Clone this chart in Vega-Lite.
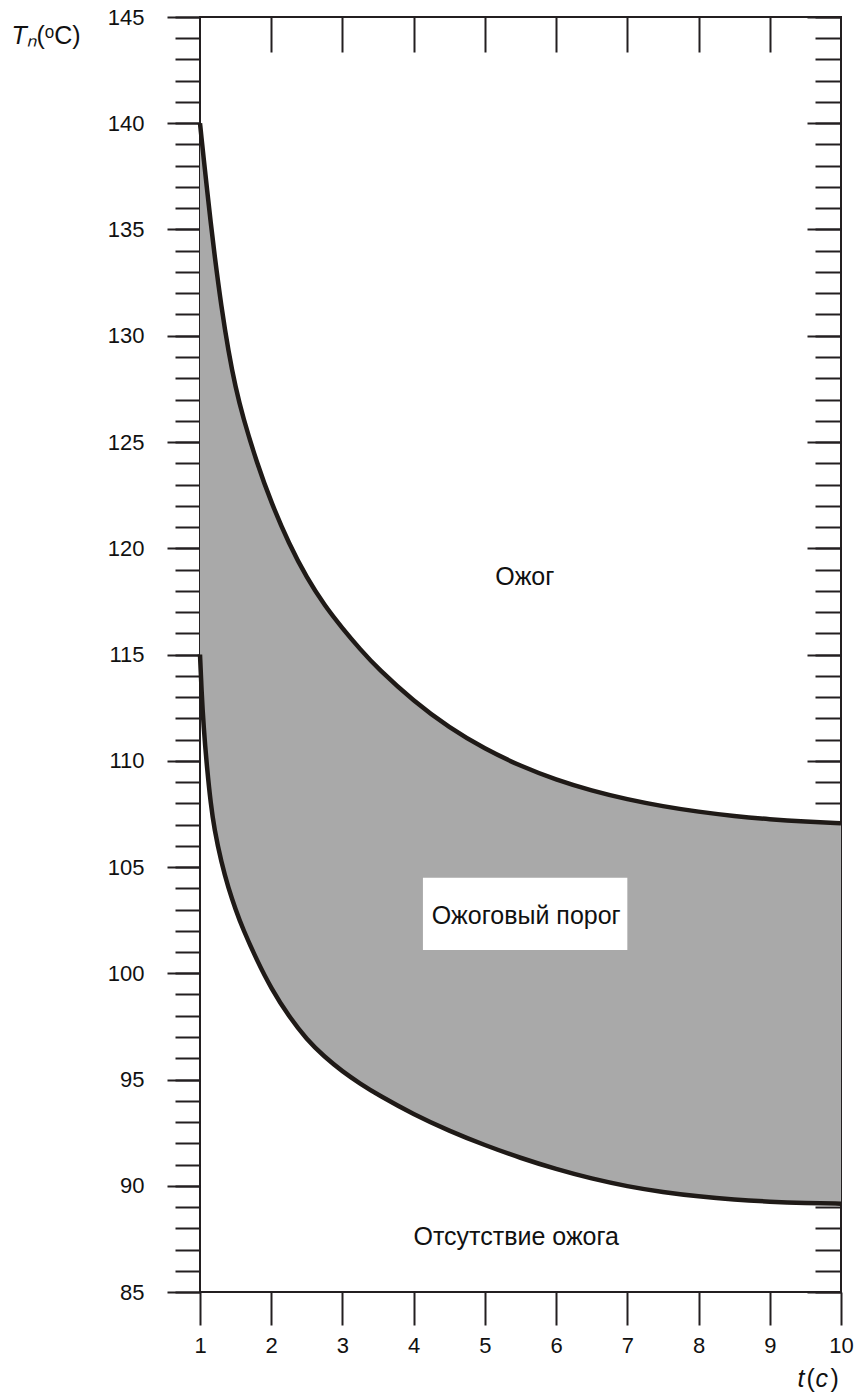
{
  "$schema": "https://vega.github.io/schema/vega-lite/v6.json",
  "width": 641,
  "height": 1275,
  "autosize": {"type": "none"},
  "padding": {"left": 200, "top": 17, "right": 16, "bottom": 102},
  "background": "white",
  "datasets": {
    "curves": [
      {"t": 1.0, "upper": 140.0, "lower": 115.0},
      {"t": 1.02, "upper": 139.35, "lower": 113.4},
      {"t": 1.05, "upper": 138.4, "lower": 111.6},
      {"t": 1.1, "upper": 136.85, "lower": 109.6},
      {"t": 1.15, "upper": 135.35, "lower": 108.0},
      {"t": 1.2, "upper": 133.9, "lower": 106.8},
      {"t": 1.3, "upper": 131.35, "lower": 105.2},
      {"t": 1.4, "upper": 129.25, "lower": 104.0},
      {"t": 1.5, "upper": 127.55, "lower": 103.0},
      {"t": 1.6, "upper": 126.2, "lower": 102.1},
      {"t": 1.8, "upper": 124.0, "lower": 100.6},
      {"t": 2.0, "upper": 122.15, "lower": 99.28},
      {"t": 2.25, "upper": 120.2, "lower": 97.955},
      {"t": 2.5, "upper": 118.6, "lower": 96.88},
      {"t": 2.75, "upper": 117.3, "lower": 96.055},
      {"t": 3.0, "upper": 116.23, "lower": 95.38},
      {"t": 3.25, "upper": 115.24, "lower": 94.8},
      {"t": 3.5, "upper": 114.33, "lower": 94.28},
      {"t": 4.0, "upper": 112.8, "lower": 93.355},
      {"t": 4.5, "upper": 111.55, "lower": 92.58},
      {"t": 5.0, "upper": 110.55, "lower": 91.905},
      {"t": 5.5, "upper": 109.75, "lower": 91.305},
      {"t": 6.0, "upper": 109.1, "lower": 90.78},
      {"t": 6.5, "upper": 108.59, "lower": 90.33},
      {"t": 7.0, "upper": 108.18, "lower": 89.97},
      {"t": 7.5, "upper": 107.855, "lower": 89.695},
      {"t": 8.0, "upper": 107.595, "lower": 89.495},
      {"t": 8.5, "upper": 107.395, "lower": 89.345},
      {"t": 9.0, "upper": 107.245, "lower": 89.245},
      {"t": 9.5, "upper": 107.135, "lower": 89.185},
      {"t": 10.0, "upper": 107.055, "lower": 89.155}
    ],
    "zones": [
      {"t": 5.56, "T": 118.65, "label": "Ожог"},
      {"t": 5.58, "T": 102.7, "label": "Ожоговый порог"},
      {"t": 5.44, "T": 87.58, "label": "Отсутствие ожога"}
    ],
    "box": [
      {"t1": 4.13, "t2": 7.0, "T1": 101.1, "T2": 104.5}
    ]
  },
  "config": {
    "view": {"stroke": "#231f20", "strokeWidth": 2},
    "axis": {
      "domain": false,
      "grid": false,
      "tickColor": "#231f20",
      "tickWidth": 2,
      "labelFont": "Liberation Sans",
      "labelFontSize": 22,
      "labelColor": "#111111",
      "labelFlush": false,
      "labelOverlap": false,
      "titleFont": "Liberation Sans",
      "titleFontSize": 25,
      "titleFontWeight": "normal",
      "titleColor": "#111111",
      "titleAngle": 0,
      "titleAlign": "left",
      "titleBaseline": "alphabetic"
    },
    "text": {"font": "Liberation Sans", "fontSize": 25, "color": "#111111"}
  },
  "resolve": {"axis": {"x": "independent", "y": "independent"}},
  "layer": [
    {
      "data": {"name": "curves"},
      "mark": {"type": "area", "interpolate": "basis", "fill": "#a9a9a9"},
      "encoding": {
        "x": {
          "field": "t", "type": "quantitative",
          "scale": {"domain": [1, 10], "nice": false, "zero": false},
          "axis": {
            "orient": "bottom", "values": [1, 2, 3, 4, 5, 6, 7, 8, 9, 10],
            "tickSize": 33, "labelPadding": 10,
            "title": "t", "titleFontStyle": "italic", "titleX": 597, "titleY": 94
          }
        },
        "y": {
          "field": "lower", "type": "quantitative",
          "scale": {"domain": [85, 145], "nice": false, "zero": false},
          "axis": {
            "orient": "left", "values": [85, 90, 95, 100, 105, 110, 115, 120, 125, 130, 135, 140, 145],
            "tickSize": 33, "labelPadding": 23,
            "title": "Tₙ", "titleFontStyle": "italic", "titleX": -189, "titleY": 26
          }
        },
        "y2": {"field": "upper"}
      }
    },
    {
      "data": {"name": "box"},
      "mark": {"type": "rect", "fill": "white"},
      "encoding": {
        "x": {"field": "t1", "type": "quantitative", "scale": {"domain": [1, 10], "nice": false, "zero": false}, "axis": null},
        "x2": {"field": "t2"},
        "y": {"field": "T1", "type": "quantitative", "scale": {"domain": [85, 145], "nice": false, "zero": false}, "axis": null},
        "y2": {"field": "T2"}
      }
    },
    {
      "data": {"name": "curves"},
      "mark": {"type": "line", "interpolate": "basis", "stroke": "#1f1a17", "strokeWidth": 4.5},
      "encoding": {
        "x": {
          "field": "t", "type": "quantitative",
          "scale": {"domain": [1, 10], "nice": false, "zero": false},
          "axis": {
            "orient": "top", "values": [2, 3, 4, 5, 6, 7, 8, 9],
            "tickSize": -35, "labels": false,
            "title": "c", "titleFontStyle": "italic", "titleX": 615, "titleY": 1369
          }
        },
        "y": {
          "field": "upper", "type": "quantitative",
          "scale": {"domain": [85, 145], "nice": false, "zero": false},
          "axis": {
            "orient": "left",
            "values": [85, 86, 87, 88, 89, 90, 91, 92, 93, 94, 95, 96, 97, 98, 99, 100, 101, 102, 103, 104, 105, 106, 107, 108, 109, 110, 111, 112, 113, 114, 115, 116, 117, 118, 119, 120, 121, 122, 123, 124, 125, 126, 127, 128, 129, 130, 131, 132, 133, 134, 135, 136, 137, 138, 139, 140, 141, 142, 143, 144, 145],
            "tickSize": 25, "labels": false,
            "title": "(ᵒC)", "titleFontStyle": "normal", "titleX": -164, "titleY": 26
          }
        }
      }
    },
    {
      "data": {"name": "curves"},
      "mark": {"type": "line", "interpolate": "basis", "stroke": "#1f1a17", "strokeWidth": 4.5},
      "encoding": {
        "x": {"field": "t", "type": "quantitative", "scale": {"domain": [1, 10], "nice": false, "zero": false}, "axis": null},
        "y": {
          "field": "lower", "type": "quantitative",
          "scale": {"domain": [85, 145], "nice": false, "zero": false},
          "axis": {
            "orient": "right",
            "values": [85, 86, 87, 88, 89, 90, 91, 92, 93, 94, 95, 96, 97, 98, 99, 100, 101, 102, 103, 104, 105, 106, 107, 108, 109, 110, 111, 112, 113, 114, 115, 116, 117, 118, 119, 120, 121, 122, 123, 124, 125, 126, 127, 128, 129, 130, 131, 132, 133, 134, 135, 136, 137, 138, 139, 140, 141, 142, 143, 144, 145],
            "tickSize": -26, "labels": false,
            "title": "(", "titleFontStyle": "normal", "titleX": -35, "titleY": 1369
          }
        }
      }
    },
    {
      "data": {"name": "zones"},
      "mark": {"type": "text", "align": "center", "baseline": "middle"},
      "encoding": {
        "x": {"field": "t", "type": "quantitative", "scale": {"domain": [1, 10], "nice": false, "zero": false}, "axis": null},
        "y": {
          "field": "T", "type": "quantitative",
          "scale": {"domain": [85, 145], "nice": false, "zero": false},
          "axis": {
            "orient": "right", "values": [85, 90, 95, 100, 105, 110, 115, 120, 125, 130, 135, 140, 145],
            "tickSize": -34, "labels": false,
            "title": ")", "titleFontStyle": "normal", "titleX": -11, "titleY": 1369
          }
        },
        "text": {"field": "label"}
      }
    }
  ]
}
